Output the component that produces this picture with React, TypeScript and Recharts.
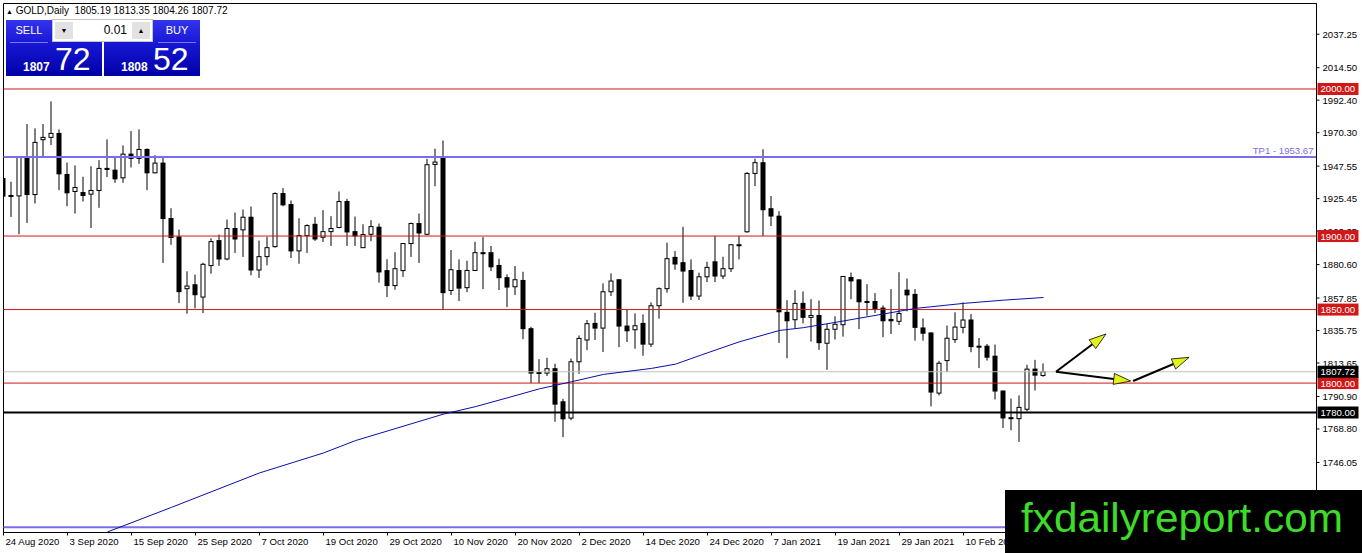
import React from 'react';
import { ComposedChart, Bar, Line, XAxis, YAxis, ReferenceLine, ReferenceArea } from 'recharts';

// daily GOLD candles, 24 Aug 2020 .. 22 Feb 2021
const opens = [
  1939.1, 1927.0, 1927.3, 1953.7, 1928.2, 1965.5, 1967.1, 1969.8, 1941.9, 1930.3,
  1929.6, 1928.5, 1931.0, 1946.0, 1944.8, 1939.6, 1955.7, 1952.8, 1958.9, 1943.0,
  1949.6, 1911.9, 1899.4, 1864.2, 1866.9, 1858.5, 1879.9, 1896.9, 1884.4, 1905.1,
  1904.2, 1912.8, 1876.9, 1886.0, 1892.8, 1928.9, 1921.4, 1889.9, 1900.3, 1908.0,
  1899.2, 1903.0, 1905.8, 1923.5, 1903.0, 1892.1, 1901.2, 1906.0, 1876.5, 1866.3,
  1876.5, 1894.9, 1908.5, 1901.2, 1948.7, 1953.2, 1863.0, 1876.6, 1864.9, 1876.6,
  1888.7, 1888.7, 1880.0, 1871.7, 1865.5, 1869.8, 1837.0, 1807.2, 1806.8, 1809.8,
  1787.3, 1776.2, 1814.5, 1829.3, 1840.6, 1837.4, 1862.1, 1870.3, 1838.8, 1836.3,
  1840.6, 1826.5, 1852.6, 1864.2, 1885.5, 1881.9, 1876.6, 1859.2, 1872.3, 1882.5,
  1872.8, 1877.8, 1894.1, 1902.9, 1942.6, 1949.9, 1918.6, 1913.5, 1848.1, 1843.1,
  1854.2, 1844.7, 1846.0, 1827.1, 1836.6, 1839.7, 1871.8, 1870.2, 1855.5, 1855.5,
  1851.0, 1843.3, 1842.0, 1863.2, 1860.3, 1837.5, 1834.1, 1793.2, 1815.3, 1829.6,
  1837.9, 1842.9, 1825.1, 1825.1, 1818.3, 1794.6, 1776.5, 1775.8, 1782.2, 1809.5,
  1805.19,
];
const highs = [
  1961.2, 1936.9, 1954.0, 1976.2, 1973.2, 1976.2, 1991.6, 1972.5, 1950.0, 1948.0,
  1940.3, 1947.5, 1951.6, 1965.7, 1953.7, 1961.6, 1971.4, 1972.5, 1959.6, 1955.0,
  1954.4, 1918.9, 1904.4, 1876.0, 1873.8, 1881.9, 1898.5, 1901.0, 1911.2, 1916.0,
  1918.0, 1920.1, 1896.9, 1899.4, 1929.8, 1932.6, 1924.2, 1912.1, 1908.0, 1913.0,
  1917.6, 1913.5, 1930.3, 1925.3, 1913.3, 1908.0, 1910.8, 1908.5, 1884.2, 1889.0,
  1895.3, 1909.2, 1915.3, 1952.5, 1959.4, 1965.0, 1890.5, 1884.1, 1883.2, 1896.1,
  1899.3, 1893.2, 1884.6, 1873.9, 1879.6, 1875.7, 1838.3, 1816.3, 1817.2, 1813.2,
  1789.3, 1816.6, 1832.4, 1842.9, 1847.8, 1867.8, 1874.6, 1870.7, 1849.7, 1847.4,
  1846.7, 1854.9, 1865.1, 1895.5, 1889.8, 1906.3, 1884.1, 1875.1, 1882.5, 1900.0,
  1885.9, 1894.3, 1900.0, 1943.5, 1952.6, 1959.0, 1927.2, 1916.9, 1856.4, 1863.2,
  1862.3, 1857.1, 1856.2, 1840.2, 1845.4, 1872.9, 1875.2, 1870.7, 1867.3, 1861.2,
  1852.8, 1863.9, 1875.4, 1871.1, 1863.9, 1844.0, 1834.5, 1815.1, 1839.1, 1848.1,
  1854.9, 1847.0, 1830.7, 1826.6, 1826.2, 1795.0, 1789.4, 1791.6, 1812.4, 1815.8,
  1813.35,
];
const lows = [
  1922.6, 1913.0, 1901.2, 1908.9, 1922.1, 1954.4, 1961.9, 1931.2, 1920.3, 1915.3,
  1923.5, 1905.5, 1919.2, 1940.1, 1936.2, 1936.2, 1946.6, 1949.1, 1931.2, 1942.6,
  1881.7, 1894.0, 1854.4, 1847.2, 1850.8, 1847.6, 1874.4, 1879.7, 1883.5, 1888.5,
  1885.8, 1873.3, 1871.5, 1880.1, 1892.1, 1920.3, 1885.1, 1881.2, 1888.5, 1896.7,
  1896.0, 1893.3, 1905.3, 1893.3, 1893.3, 1891.9, 1896.5, 1868.3, 1858.5, 1863.5,
  1872.2, 1885.8, 1881.7, 1900.5, 1933.9, 1849.7, 1859.9, 1855.8, 1861.9, 1876.2,
  1863.9, 1876.2, 1863.3, 1851.7, 1859.9, 1829.9, 1800.0, 1800.0, 1804.8, 1773.7,
  1763.3, 1774.8, 1806.3, 1822.4, 1829.3, 1821.1, 1859.2, 1824.5, 1827.9, 1823.4,
  1818.6, 1824.5, 1843.8, 1861.5, 1877.1, 1854.6, 1856.5, 1856.5, 1868.7, 1868.7,
  1870.7, 1875.5, 1884.1, 1902.3, 1934.0, 1900.0, 1906.8, 1827.3, 1816.9, 1837.2,
  1840.6, 1828.2, 1822.6, 1809.0, 1829.6, 1831.6, 1857.1, 1836.8, 1845.8, 1847.6,
  1831.2, 1833.4, 1839.5, 1848.8, 1828.9, 1828.9, 1784.2, 1791.6, 1807.4, 1827.3,
  1833.9, 1821.0, 1810.2, 1815.3, 1788.9, 1769.5, 1767.9, 1760.0, 1780.8, 1795.0,
  1804.26,
];
const closes = [
  1927.1, 1927.6, 1953.7, 1928.2, 1963.7, 1967.1, 1969.8, 1942.3, 1929.4, 1933.0,
  1927.6, 1931.0, 1946.0, 1945.3, 1938.9, 1955.7, 1952.8, 1958.9, 1943.0, 1949.6,
  1911.9, 1899.0, 1862.2, 1866.0, 1860.1, 1880.8, 1896.2, 1884.4, 1905.1, 1898.0,
  1912.8, 1876.9, 1886.0, 1892.1, 1928.9, 1921.2, 1889.9, 1900.3, 1907.1, 1898.0,
  1903.0, 1905.1, 1923.5, 1902.8, 1900.1, 1901.0, 1906.4, 1875.6, 1866.3, 1877.8,
  1894.9, 1908.5, 1902.1, 1948.5, 1950.3, 1861.5, 1877.1, 1864.6, 1876.6, 1888.7,
  1888.0, 1879.1, 1871.7, 1865.3, 1870.3, 1837.0, 1806.8, 1806.6, 1809.8, 1785.7,
  1775.7, 1814.5, 1830.4, 1840.4, 1837.4, 1862.1, 1869.4, 1838.8, 1835.6, 1839.0,
  1826.5, 1852.6, 1864.2, 1884.6, 1881.0, 1876.2, 1859.2, 1872.3, 1878.7, 1872.8,
  1877.8, 1894.1, 1893.7, 1942.6, 1949.9, 1917.9, 1913.6, 1848.5, 1842.4, 1854.2,
  1844.7, 1846.0, 1827.5, 1836.6, 1840.0, 1872.5, 1869.5, 1855.3, 1854.9, 1850.3,
  1842.4, 1842.4, 1847.4, 1860.0, 1837.9, 1833.9, 1793.9, 1813.5, 1830.5, 1838.1,
  1842.9, 1824.8, 1824.4, 1817.6, 1794.6, 1776.3, 1775.8, 1783.5, 1809.5, 1805.4,
  1807.72,
];

// moving average, read at these bars
const maBars = [13, 21, 32, 40, 44, 55, 59, 63, 67, 71, 75, 81, 84, 88, 92, 97, 100, 104, 110, 114, 120, 125, 130];
const maValues = [1698.8, 1715.5, 1738.9, 1752.5, 1760.9, 1778.9, 1784.0, 1790.0, 1796.1, 1800.9, 1805.9, 1810.0, 1812.9, 1820.6, 1828.1, 1835.8, 1837.7, 1841.3, 1847.0, 1850.8, 1854.2, 1856.4, 1858.2];

const tickBars = [0, 8, 16, 24, 32, 40, 48, 56, 64, 72, 80, 88, 96, 104, 112, 120];
const tickLabels = [
  '24 Aug 2020', '3 Sep 2020', '15 Sep 2020', '25 Sep 2020', '7 Oct 2020', '19 Oct 2020',
  '29 Oct 2020', '10 Nov 2020', '20 Nov 2020', '2 Dec 2020', '14 Dec 2020', '24 Dec 2020',
  '7 Jan 2021', '19 Jan 2021', '29 Jan 2021', '10 Feb 2021',
];

const priceTicks = [2037.25, 2014.5, 1992.4, 1970.3, 1947.55, 1925.45, 1903.35, 1880.6, 1857.85, 1835.75, 1813.65, 1790.9, 1768.8, 1746.05];
const redLevels = [2000, 1900, 1850, 1800];
const supportLevel = 1780;
const tpLevel = 1953.67;
const lowerLine = 1702;
const lastPrice = 1807.72;

const X_DOMAIN = [0, 164.125];
const Y_DOMAIN = [1698.4, 2058.14];

const RED = '#d01818';
const TP_BLUE = '#7a6ee6';
const FONT = "'Liberation Sans', Arial, sans-serif";

const maByBar: Record<number, number> = {};
maBars.forEach((b, k) => { maByBar[b] = maValues[k]; });

const data = opens.map((o, i) => ({
  i,
  open: o,
  high: highs[i],
  low: lows[i],
  close: closes[i],
  range: [lows[i], highs[i]],
  ma: maByBar[i] ?? null,
}));

const boxed: Record<string, string> = {
  '2000': RED, '1900': RED, '1850': RED, '1800': RED, '1807.72': '#000', '1780': '#000',
};

const Candle = (props: any) => {
  const { x, y, width, height, payload } = props;
  if (x == null || !payload) return null;
  const top = Math.min(y, y + height);
  const h = Math.abs(height);
  const cx = x + width / 2;
  const span = payload.high - payload.low || 1;
  const yOf = (v: number) => top + ((payload.high - v) / span) * h;
  const bTop = yOf(Math.max(payload.open, payload.close));
  const bBot = yOf(Math.min(payload.open, payload.close));
  const bull = payload.close >= payload.open;
  return (
    <g>
      <line x1={cx} x2={cx} y1={top} y2={top + h} stroke="#000" strokeWidth={1} />
      {bull ? (
        <rect x={cx - 2} y={bTop} width={4} height={Math.max(bBot - bTop, 1)} fill="#fff" stroke="#000" strokeWidth={1} />
      ) : (
        <rect x={cx - 2.5} y={bTop - 0.5} width={5} height={Math.max(bBot - bTop, 1) + 1} fill="#000" />
      )}
    </g>
  );
};

const XTick = (props: any) => {
  const { x, y, payload } = props;
  const k = tickBars.indexOf(payload.value);
  return (
    <g>
      <line x1={x} x2={x} y1={y} y2={y + 3} stroke="#000" />
      <text x={x + 2} y={y + 12} fontSize={9.6} fontFamily={FONT} fill="#000">{tickLabels[k]}</text>
    </g>
  );
};

const YTick = (props: any) => {
  const { x, y, payload } = props;
  const v = payload.value;
  const fill = boxed[String(v)];
  if (fill) {
    return (
      <g>
        <rect x={x + 1} y={y - 6} width={41} height={12} fill={fill} />
        <text x={x + 4} y={y + 3.5} fontSize={9.6} fontFamily={FONT} fill="#fff">{v.toFixed(2)}</text>
      </g>
    );
  }
  return (
    <g>
      <line x1={x} x2={x + 3} y1={y} y2={y} stroke="#000" />
      <text x={x + 6} y={y + 3.5} fontSize={9.6} fontFamily={FONT} fill="#000">{v.toFixed(2)}</text>
    </g>
  );
};

const Arrow = (props: any) => {
  const { x1, y1, x2, y2 } = props;
  if (x1 == null) return null;
  const len = Math.hypot(x2 - x1, y2 - y1) || 1;
  const dx = (x2 - x1) / len;
  const dy = (y2 - y1) / len;
  const bx = x2 - dx * 17;
  const by = y2 - dy * 17;
  const pts = `${x2},${y2} ${bx - dy * 5.5},${by + dx * 5.5} ${bx + dy * 5.5},${by - dx * 5.5}`;
  return (
    <g>
      <line x1={x1} y1={y1} x2={bx} y2={by} stroke="#000" strokeWidth={2} />
      <polygon points={pts} fill="#e4f21c" stroke="#000" strokeWidth={0.8} />
    </g>
  );
};

const arrows = [
  [{ x: 131.56, y: 1807.75 }, { x: 137.81, y: 1833.4 }],
  [{ x: 131.56, y: 1807.75 }, { x: 140.9, y: 1801.4 }],
  [{ x: 141.2, y: 1801.4 }, { x: 148.2, y: 1817.5 }],
];

const panels = [
  { left: 6, label: 'SELL', labelLeft: 0, labelWidth: 46, big: '1807', small: '72' },
  { left: 104, label: 'BUY', labelLeft: 50, labelWidth: 46, big: '1808', small: '52' },
];

const TradePanel = () => (
  <div style={{ position: 'absolute', left: 0, top: 0, fontFamily: FONT }}>
    <div style={{ position: 'absolute', left: 6, top: 5, fontSize: 10, color: '#000', whiteSpace: 'nowrap' }}>
      <span style={{ fontSize: 7 }}>▲</span> GOLD,Daily&nbsp; 1805.19 1813.35 1804.26 1807.72
    </div>
    {panels.map((p) => (
      <div key={p.label} style={{ position: 'absolute', left: p.left, top: 20, width: 96, height: 56, background: 'linear-gradient(#3434ee, #1818d6 40%, #0000a6)' }}>
        <div style={{ position: 'absolute', left: p.labelLeft, top: 4, width: p.labelWidth, textAlign: 'center', color: '#fff', fontSize: 11 }}>{p.label}</div>
        <div style={{ position: 'absolute', left: p.labelLeft + 4, top: 22, width: p.labelWidth - 8, height: 1, background: '#7878f4' }} />
        <div style={{ position: 'absolute', left: 17, top: 40, color: '#fff', fontSize: 12, fontWeight: 'bold' }}>{p.big}</div>
        <div style={{ position: 'absolute', left: 49, top: 21, color: '#fff', fontSize: 32 }}>{p.small}</div>
      </div>
    ))}
    <div style={{ position: 'absolute', left: 52, top: 19, width: 99, height: 21, background: '#fff', border: '1px solid #c4c4c4' }}>
      <div style={{ position: 'absolute', left: 2, top: 2, width: 18, height: 17, background: '#e2e2e2', fontSize: 7, textAlign: 'center', lineHeight: '17px' }}>▼</div>
      <div style={{ position: 'absolute', right: 25, top: 3, fontSize: 12, color: '#000' }}>0.01</div>
      <div style={{ position: 'absolute', right: 2, top: 2, width: 18, height: 17, background: '#e2e2e2', fontSize: 7, textAlign: 'center', lineHeight: '17px' }}>▲</div>
    </div>
  </div>
);

const Logo = () => (
  <div style={{ position: 'absolute', left: 1005, top: 490, width: 357, height: 63, background: '#000' }}>
    <svg width={357} height={63}>
      <text x={16} y={42} fontSize={41} fontFamily={FONT} fill="#3cdc28" textLength={322} lengthAdjust="spacingAndGlyphs">fxdailyreport.com</text>
    </svg>
  </div>
);

export default function App() {
  return (
    <div style={{ position: 'absolute', left: 0, top: 0, width: 1362, height: 553, background: '#fff' }}>
      <ComposedChart width={1362} height={553} data={data} margin={{ top: 3.5, left: 3.5, right: 0, bottom: 0 }}>
        <XAxis
          type="number"
          dataKey="i"
          domain={X_DOMAIN}
          allowDataOverflow
          ticks={tickBars}
          interval={0}
          tick={<XTick />}
          tickSize={0}
          tickMargin={0}
          tickLine={false}
          axisLine={{ stroke: '#000' }}
          height={20.5}
        />
        <YAxis
          orientation="right"
          type="number"
          domain={Y_DOMAIN}
          allowDataOverflow
          ticks={[...priceTicks, ...redLevels, lastPrice, supportLevel]}
          interval={0}
          tick={<YTick />}
          tickSize={0}
          tickMargin={0}
          tickLine={false}
          axisLine={{ stroke: '#000' }}
          width={45.5}
        />
        <ReferenceArea x1={X_DOMAIN[0]} x2={X_DOMAIN[1]} y1={Y_DOMAIN[0]} y2={Y_DOMAIN[1]} fill="none" stroke="#000" ifOverflow="visible" />
        {redLevels.map((v) => (
          <ReferenceLine key={v} y={v} stroke={RED} strokeWidth={1} />
        ))}
        <ReferenceLine y={lastPrice} stroke="#c0c0c0" strokeWidth={1} />
        <ReferenceLine y={supportLevel} stroke="#000" strokeWidth={2} />
        <ReferenceLine y={lowerLine} stroke={TP_BLUE} strokeWidth={2} />
        <ReferenceLine
          y={tpLevel}
          stroke={TP_BLUE}
          strokeWidth={2}
          label={(p: any) => {
            const vb = p.viewBox || {};
            return (
              <text x={vb.x + vb.width - 3} y={vb.y - 3} textAnchor="end" fontSize={9.6} fontFamily={FONT} fill={TP_BLUE}>
                TP1 - 1953.67
              </text>
            );
          }}
        />
        <Bar dataKey="range" barSize={5} shape={<Candle />} isAnimationActive={false} />
        <Line dataKey="ma" type="linear" stroke="#0c0caa" strokeWidth={1} dot={false} connectNulls isAnimationActive={false} />
        {arrows.map((seg, k) => (
          <ReferenceLine key={`a${k}`} segment={seg} ifOverflow="visible" shape={<Arrow />} />
        ))}
      </ComposedChart>
      <TradePanel />
      <Logo />
    </div>
  );
}
